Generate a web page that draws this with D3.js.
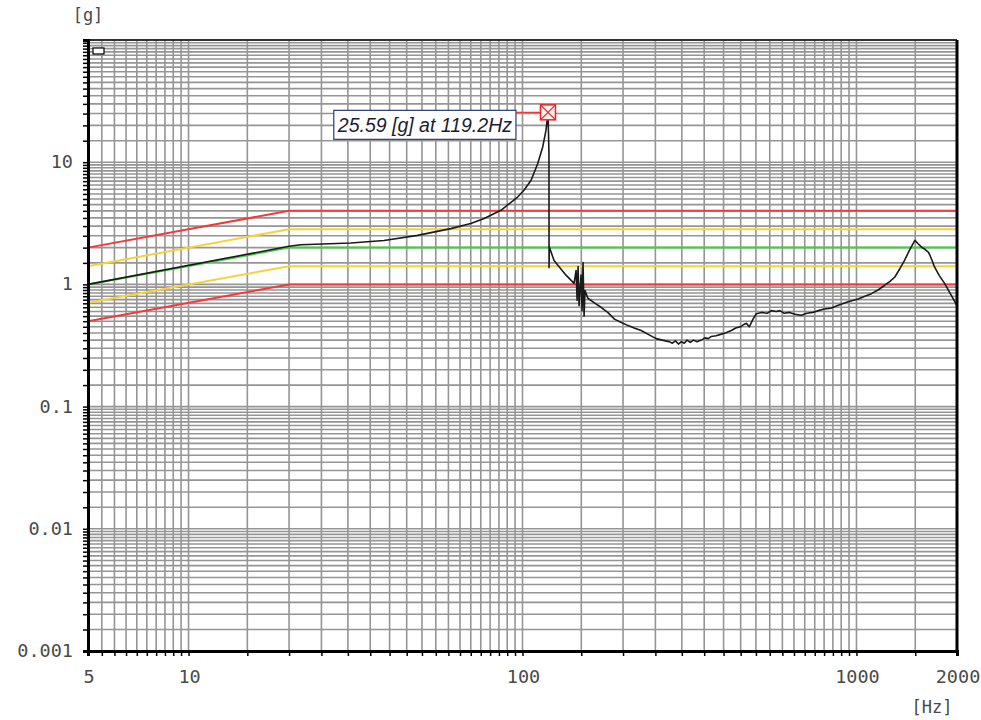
<!DOCTYPE html>
<html>
<head>
<meta charset="utf-8">
<script src="https://cdn.jsdelivr.net/npm/d3@7"></script>
<style>
    body { margin: 0; background: #ffffff; }
    svg { display: block; }
</style>
</head>
<body>
<div id="chart"></div>
<script>

// response trace: frequency [Hz] / acceleration [g]
let respFreq = [5, 20, 21.7, 30.6, 38.5, 48.5, 61, 70, 76.8, 86.2, 96.7, 101, 106.1, 111.1, 115, 117.6, 119.2,
    120.0, 120.1, 120.3, 124.3, 127.8, 135, 142.7, 144.7, 145.7, 146.7, 147.7, 149.7, 150.8, 151.8, 152.9, 153.9,
    156.9, 165, 171.9, 180, 188.5, 197, 207.2, 216, 226.6, 238, 251.3, 262, 268, 275, 281, 287, 293, 299, 305,
    311, 318, 325, 333, 343, 352, 360, 367.5, 380, 392, 405, 421.9, 435, 450, 460, 468, 478, 490, 501, 520, 540,
    556, 575, 590, 608, 630, 655, 684, 710, 740, 769, 800, 841, 890, 944, 1012, 1060, 1109, 1160, 1213, 1260,
    1303, 1350, 1393, 1440, 1496, 1530, 1567, 1610, 1644, 1680, 1713, 1770, 1836, 1910, 2000];
let respAccel = [1.0, 2.05, 2.11, 2.18, 2.29, 2.52, 2.86, 3.15, 3.46, 4.04, 5.19, 5.9, 7.12, 9.76, 13.4, 18.3, 25.59,
    12.0, 1.37, 2.02, 1.57, 1.43, 1.19, 1.02, 1.30, 0.74, 1.40, 0.67, 1.19, 0.61, 1.51, 0.55, 0.89,
    0.77, 0.70, 0.65, 0.59, 0.52, 0.49, 0.46, 0.44, 0.42, 0.39, 0.36, 0.35, 0.345, 0.34, 0.33, 0.345, 0.325, 0.34, 0.33,
    0.35, 0.335, 0.35, 0.34, 0.35, 0.365, 0.36, 0.375, 0.38, 0.39, 0.40, 0.42, 0.44, 0.45, 0.47, 0.48, 0.45, 0.52, 0.575, 0.59, 0.58,
    0.61, 0.60, 0.61, 0.58, 0.59, 0.57, 0.56, 0.58, 0.59, 0.61, 0.63, 0.64, 0.68, 0.72, 0.76, 0.80, 0.84, 0.90, 0.98, 1.06,
    1.15, 1.35, 1.57, 1.90, 2.29, 2.15, 2.02, 1.92, 1.83, 1.60, 1.39, 1.18, 1.02, 0.84, 0.67];

// limit profile
let limitFreq = [5, 20, 2000];
let abortHigh = [2, 4, 4];
let alarmHigh = [1.41, 2.83, 2.83];
let referenceLine = [1, 2, 2];
let alarmLow = [0.707, 1.41, 1.41];
let abortLow = [0.5, 1, 1];

let xTickLabels = [5, 10, 100, 1000, 2000];
let yTickLabels = [0.001, 0.01, 0.1, 1, 10];

let peakLabel = "25.59 [g] at 119.2Hz";

let width = 981, height = 720;
let margin = { left: 88, right: 24, top: 40, bottom: 69 };

let svg = d3.select("#chart").append("svg")
    .attr("width", width)
    .attr("height", height);

let x = d3.scaleLog()
    .domain([5, 2000])
    .range([margin.left, width - margin.right]);

let y = d3.scaleLog()
    .domain([0.001, 100])
    .range([height - margin.bottom, margin.top]);

// grid: each decade split in steps of half the decade start
function gridValues(lo, hi) {
    let vals = [];
    for (let d = 1e-3; d <= 1e3; d *= 10) {
        let dec = +d.toPrecision(1);
        for (let i = 0; i <= 18; i += 1) {
            let v = +(dec * (1 + 0.5 * i)).toPrecision(4);
            if (v >= lo && v <= hi && !vals.includes(v)) vals.push(v);
        }
    }
    return vals;
}

let xGrid = gridValues(5, 2000);
let yGrid = gridValues(0.001, 100);

let gGrid = svg.append("g");

gGrid.selectAll("line.vx")
    .data(xGrid)
    .join("line")
    .attr("class", "vx")
    .attr("x1", d => x(d))
    .attr("x2", d => x(d))
    .attr("y1", y.range()[1])
    .attr("y2", y.range()[0])
    .attr("stroke", "#959595")
    .attr("stroke-width", 1.6);

gGrid.selectAll("line.hy")
    .data(yGrid)
    .join("line")
    .attr("class", "hy")
    .attr("x1", x.range()[0])
    .attr("x2", x.range()[1])
    .attr("y1", d => y(d))
    .attr("y2", d => y(d))
    .attr("stroke", "#959595")
    .attr("stroke-width", 1.6);

// limit lines
let line = d3.line()
    .x(d => x(d[0]))
    .y(d => y(d[1]));

let limits = [
    { vals: abortHigh, color: "#f23a3a" },
    { vals: alarmLow, color: "#f7d23c" },
    { vals: alarmHigh, color: "#f7d23c" },
    { vals: abortLow, color: "#f23a3a" },
    { vals: referenceLine, color: "#3fd03f" }
];

svg.append("g").selectAll("path")
    .data(limits)
    .join("path")
    .attr("d", d => line(limitFreq.map((f, i) => [f, d.vals[i]])))
    .attr("fill", "none")
    .attr("stroke", d => d.color)
    .attr("stroke-width", 2);

// response
let respData = respFreq.map((f, i) => [f, respAccel[i]]);

svg.append("path")
    .attr("d", line(respData))
    .attr("fill", "none")
    .attr("stroke", "#1a1a1a")
    .attr("stroke-width", 1.6)
    .attr("stroke-linejoin", "round");

// frame
let x0 = x.range()[0], x1 = x.range()[1], y0 = y.range()[0], y1 = y.range()[1];

svg.append("line").attr("x1", x0).attr("x2", x1).attr("y1", y1).attr("y2", y1)
    .attr("stroke", "#333").attr("stroke-width", 2);
svg.append("line").attr("x1", x1).attr("x2", x1).attr("y1", y1).attr("y2", y0)
    .attr("stroke", "#000").attr("stroke-width", 3);

// axes
let yAxis = d3.axisLeft(y)
    .tickValues(yGrid)
    .tickSize(5)
    .tickFormat("");

let gy = svg.append("g")
    .attr("transform", `translate(${x0},0)`)
    .call(yAxis);

let xAxis = d3.axisBottom(x)
    .tickValues(xGrid)
    .tickSize(5)
    .tickFormat("");

let gx = svg.append("g")
    .attr("transform", `translate(0,${y0})`)
    .call(xAxis);

[gx, gy].forEach(g => {
    g.select(".domain").attr("stroke", "#000").attr("stroke-width", 3);
    g.selectAll(".tick line").attr("stroke", "#000").attr("stroke-width", 1.5);
});

let labelFont = "'DejaVu Sans Mono', monospace";

svg.append("g").selectAll("text")
    .data(yTickLabels)
    .join("text")
    .attr("x", x0 - 15)
    .attr("y", d => y(d) + 6)
    .attr("text-anchor", "end")
    .attr("font-family", labelFont)
    .attr("font-size", "18.5px")
    .attr("fill", "#4a4a4a")
    .text(d => d);

svg.append("g").selectAll("text")
    .data(xTickLabels)
    .join("text")
    .attr("x", d => x(d) + 1)
    .attr("y", y0 + 32)
    .attr("text-anchor", "middle")
    .attr("font-family", labelFont)
    .attr("font-size", "18.5px")
    .attr("fill", "#4a4a4a")
    .text(d => d);

svg.append("text")
    .attr("x", x0)
    .attr("y", 21)
    .attr("text-anchor", "middle")
    .attr("font-family", labelFont)
    .attr("font-size", "17px")
    .attr("fill", "#4a4a4a")
    .text("[g]");

svg.append("text")
    .attr("x", x1 - 25)
    .attr("y", 713)
    .attr("text-anchor", "middle")
    .attr("font-family", labelFont)
    .attr("font-size", "17px")
    .attr("fill", "#4a4a4a")
    .text("[Hz]");

// small legend box in the corner
svg.append("rect")
    .attr("x", x0 + 5)
    .attr("y", y1 + 8)
    .attr("width", 11)
    .attr("height", 6)
    .attr("fill", "#fff")
    .attr("stroke", "#000")
    .attr("stroke-width", 1.2);

// peak marker + label
let peakIdx = d3.maxIndex(respAccel);
let px = x(respFreq[peakIdx]), py = y(respAccel[peakIdx]);

let gPeak = svg.append("g");

let labelText = gPeak.append("text")
    .attr("font-family", "'Liberation Sans', Arial, sans-serif")
    .attr("font-style", "italic")
    .attr("font-size", "19.5px")
    .attr("fill", "#1c1c30")
    .text(peakLabel);

let tw = labelText.node().getComputedTextLength();
let boxRight = px - 32;
let boxLeft = boxRight - tw - 8;
let boxTop = py - 2;

gPeak.insert("rect", "text")
    .attr("x", boxLeft)
    .attr("y", boxTop)
    .attr("width", boxRight - boxLeft)
    .attr("height", 29)
    .attr("fill", "#fff")
    .attr("stroke", "#2a3a78")
    .attr("stroke-width", 1.2);

labelText
    .attr("x", boxLeft + 4)
    .attr("y", boxTop + 21.5);

gPeak.append("line")
    .attr("x1", boxRight)
    .attr("x2", px - 7.5)
    .attr("y1", py)
    .attr("y2", py)
    .attr("stroke", "#e83030")
    .attr("stroke-width", 1.2);

gPeak.append("rect")
    .attr("x", px - 7.5)
    .attr("y", py - 7.5)
    .attr("width", 15)
    .attr("height", 15)
    .attr("fill", "#fff0f0")
    .attr("stroke", "#ee2222")
    .attr("stroke-width", 1.5);

gPeak.append("path")
    .attr("d", `M${px - 7.5},${py - 7.5}L${px + 7.5},${py + 7.5}M${px + 7.5},${py - 7.5}L${px - 7.5},${py + 7.5}`)
    .attr("stroke", "#ee2222")
    .attr("stroke-width", 1.2);

</script>
</body>
</html>
